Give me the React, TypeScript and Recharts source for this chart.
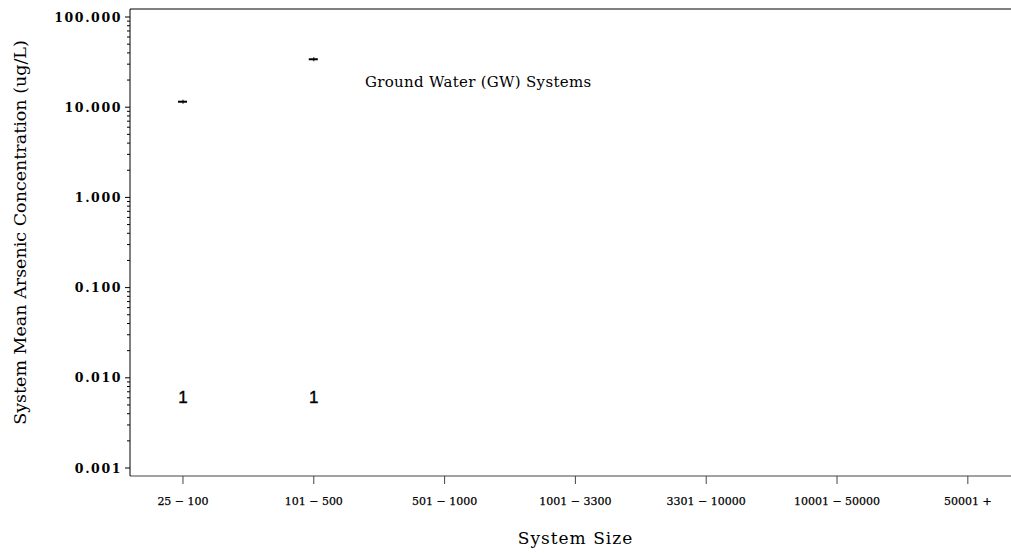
import {
  ComposedChart,
  Scatter,
  XAxis,
  YAxis,
  Label,
} from 'recharts';

const SIZE_CLASSES = [
  '25 − 100',
  '101 − 500',
  '501 − 1000',
  '1001 − 3300',
  '3301 − 10000',
  '10001 − 50000',
  '50001 +',
];
const MEAN_VALUES: (number | null)[] = [11.5, 34, null, null, null, null, null];
const SYSTEM_COUNTS: (number | null)[] = [1, 1, null, null, null, null, null];
const MAJOR_TICKS = [0.001, 0.01, 0.1, 1, 10, 100];

const COUNT_ROW_Y = 0.006; // where the N row sits, in data units
const PANEL_TITLE = 'Ground Water (GW) Systems';

const minorTicks: number[] = [];
for (let d = 0; d < 5; d++) {
  for (let m = 2; m <= 9; m++) minorTicks.push(Number((m * MAJOR_TICKS[d]).toPrecision(3)));
}
const allYTicks = [...MAJOR_TICKS, ...minorTicks].sort((a, b) => a - b);

const meanData = MEAN_VALUES.map((v, i) => ({ idx: i, value: v })).filter((d) => d.value != null);
const countData = SYSTEM_COUNTS.map((n, i) => ({ idx: i, n, value: COUNT_ROW_Y })).filter(
  (d) => d.n != null
);

const serif = '"DejaVu Serif", serif';

function YTick(props: any) {
  const { x, y, payload } = props;
  const major = MAJOR_TICKS.includes(payload.value);
  return (
    <g>
      <line x1={x - (major ? 5 : 3)} x2={x} y1={y} y2={y} stroke="#000" strokeWidth={1} />
      {major && (
        <text
          x={x - 8}
          y={y}
          textAnchor="end"
          dominantBaseline="central"
          fontFamily={serif}
          fontWeight="bold"
          fontSize={12.5}
          letterSpacing={1.6}
          fill="#000"
        >
          {payload.value.toFixed(3)}
        </text>
      )}
    </g>
  );
}

function XTick(props: any) {
  const { x, y, payload } = props;
  return (
    <g>
      <line x1={x} x2={x} y1={y} y2={y + 8} stroke="#444" strokeWidth={1} />
      <text
        x={x}
        y={y + 25}
        textAnchor="middle"
        dominantBaseline="central"
        fontFamily={serif}
        fontSize={11}
        stroke="#000"
        strokeWidth={0.25}
        fill="#000"
      >
        {SIZE_CLASSES[payload.value]}
      </text>
    </g>
  );
}

function MeanMark(props: any) {
  const { cx, cy } = props;
  return (
    <g>
      <line x1={cx - 5} x2={cx + 4} y1={cy} y2={cy} stroke="#000" strokeWidth={2} />
      <line x1={cx} x2={cx} y1={cy - 2} y2={cy + 2} stroke="#000" strokeWidth={1} />
    </g>
  );
}

function CountMark(props: any) {
  const { cx, cy, payload } = props;
  return (
    <text
      x={cx}
      y={cy}
      textAnchor="middle"
      dominantBaseline="central"
      fontFamily='"Liberation Sans", sans-serif'
      fontSize={17}
      stroke="#000"
      strokeWidth={0.4}
      fill="#000"
    >
      {payload.n}
    </text>
  );
}

export default function App() {
  return (
    <div style={{ position: 'absolute', left: 0, top: 0, background: '#fff' }}>
      <ComposedChart
        width={1011}
        height={553}
        margin={{ top: 9, right: 0, bottom: 0, left: 0 }}
      >
        <XAxis
          dataKey="idx"
          type="number"
          domain={[-0.405, 6.33]}
          ticks={[0, 1, 2, 3, 4, 5, 6]}
          allowDataOverflow
          height={77}
          tickSize={0}
          tickMargin={0}
          tickLine={false}
          tick={<XTick />}
          axisLine={{ stroke: '#444' }}
        >
          <Label
            content={(p: any) => {
              const vb = p.viewBox;
              return (
                <text
                  x={vb.x + vb.width / 2 + 5}
                  y={vb.y + 62}
                  textAnchor="middle"
                  dominantBaseline="central"
                  fontFamily={serif}
                  fontSize={17}
                  letterSpacing={1}
                  fill="#000"
                >
                  System Size
                </text>
              );
            }}
          />
        </XAxis>
        <YAxis
          type="number"
          scale="log"
          domain={[0.001, 100]}
          allowDataOverflow
          ticks={allYTicks}
          interval={0}
          padding={{ top: 8, bottom: 8 }}
          width={130}
          tickSize={0}
          tickMargin={0}
          tickLine={false}
          tick={<YTick />}
          axisLine={{ stroke: '#000' }}
        >
          <Label
            content={(p: any) => {
              const vb = p.viewBox;
              const cy = vb.y + vb.height / 2 - 10;
              const right = vb.x + vb.width;
              return (
                <g>
                  <line x1={right} x2={1011} y1={vb.y} y2={vb.y} stroke="#000" strokeWidth={1} />
                  <text
                    x={right + 235}
                    y={vb.y + 73}
                    dominantBaseline="central"
                    fontFamily={serif}
                    fontSize={15}
                    letterSpacing={0.3}
                    fill="#000"
                  >
                    {PANEL_TITLE}
                  </text>
                  <text
                    x={20}
                    y={cy}
                    transform={`rotate(-90, 20, ${cy})`}
                    textAnchor="middle"
                    dominantBaseline="central"
                    fontFamily={serif}
                    fontSize={17.5}
                    fill="#000"
                  >
                    System Mean Arsenic Concentration (ug/L)
                  </text>
                </g>
              );
            }}
          />
        </YAxis>
        <Scatter
          data={meanData}
          dataKey="value"
          shape={<MeanMark />}
          isAnimationActive={false}
        />
        <Scatter
          data={countData}
          dataKey="value"
          shape={<CountMark />}
          isAnimationActive={false}
        />
      </ComposedChart>
    </div>
  );
}
